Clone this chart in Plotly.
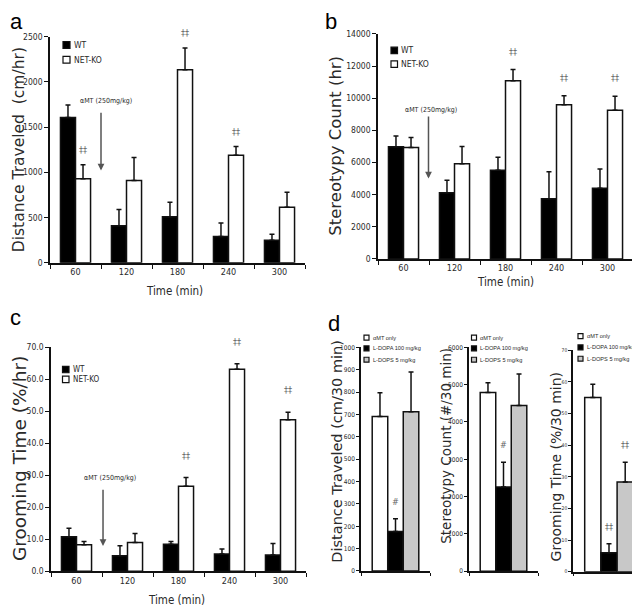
import plotly.graph_objects as go

W, H = 640, 608

# ---------------- data ----------------
times = ["60", "120", "180", "240", "300"]
groups = ["WT", "NET-KO"]

a_wt = [1605, 410, 510, 290, 250]
a_wt_err = [140, 180, 160, 150, 65]
a_ko = [930, 910, 2135, 1190, 615]
a_ko_err = [155, 255, 240, 95, 165]
a_sig = ["‡‡", "", "‡‡", "‡‡", ""]

b_wt = [6980, 4120, 5510, 3740, 4390]
b_wt_err = [670, 780, 820, 1690, 1200]
b_ko = [6940, 5920, 11080, 9590, 9250]
b_ko_err = [610, 1080, 700, 570, 880]
b_sig = ["", "", "‡‡", "‡‡", "‡‡"]

c_wt = [10.8, 4.9, 8.5, 5.4, 5.1]
c_wt_err = [2.7, 3.1, 0.8, 1.6, 3.6]
c_ko = [8.3, 9.0, 26.6, 63.2, 47.4]
c_ko_err = [1.0, 2.8, 2.7, 1.7, 2.3]
c_sig = ["", "", "‡‡", "‡‡", "‡‡"]

treatments = ["αMT only", "L-DOPA 100 mg/kg", "L-DOPS 5 mg/kg"]
d_dist = [691, 176, 712]
d_dist_err = [106, 58, 178]
d_dist_sig = ["", "#", ""]
d_ster = [4790, 2260, 4440]
d_ster_err = [260, 660, 850]
d_ster_sig = ["", "#", ""]
d_groom = [55.1, 6.0, 28.4]
d_groom_err = [4.2, 2.8, 6.2]
d_groom_sig = ["", "‡‡", "‡‡"]

# ---------------- style ----------------
def PX(px):
    return px / W


def PY(py):
    return 1 - py / H


NARROW = "Liberation Sans Narrow, Arial Narrow, DejaVu Sans Condensed, sans-serif"
WIDE = "DejaVu Sans, Verdana, sans-serif"
ARIAL = "Liberation Sans, Arial, sans-serif"
INK = "#111111"
TXT = "#2a2a2a"
SIGC = "#666666"

group_colors = ["#000000", "#ffffff"]
treat_colors = ["#ffffff", "#000000", "#c8c8c8"]

fig = go.Figure()

GW = 0.295
group_offsets = [-GW, 0.0]


def err(arr):
    return dict(type="data", symmetric=False, array=arr, color=INK,
                thickness=1.5, width=2.5)


panels_ac = [
    ("x", "y", [a_wt, a_ko], [a_wt_err, a_ko_err]),
    ("x2", "y2", [b_wt, b_ko], [b_wt_err, b_ko_err]),
    ("x3", "y3", [c_wt, c_ko], [c_wt_err, c_ko_err]),
]
for xa, ya, vals, errs in panels_ac:
    for gi in range(2):
        fig.add_trace(go.Bar(
            x=times, y=vals[gi], name=groups[gi], xaxis=xa, yaxis=ya,
            offset=group_offsets[gi], width=GW,
            marker=dict(color=group_colors[gi], line=dict(color=INK, width=1.5)),
            error_y=err(errs[gi]), showlegend=False, cliponaxis=False,
        ))

DW = 0.225
treat_offsets = [-1.5 * DW, -0.5 * DW, 0.5 * DW]
panels_d = [
    ("x4", "y4", d_dist, d_dist_err),
    ("x5", "y5", d_ster, d_ster_err),
    ("x6", "y6", d_groom, d_groom_err),
]
for xa, ya, vals, errs in panels_d:
    for ti in range(3):
        fig.add_trace(go.Bar(
            x=[0], y=[vals[ti]], name=treatments[ti], xaxis=xa, yaxis=ya,
            offset=treat_offsets[ti], width=DW,
            marker=dict(color=treat_colors[ti], line=dict(color=INK, width=1.5)),
            error_y=err([errs[ti]]), showlegend=False, cliponaxis=False,
        ))

# ---------------- axes ----------------
common = dict(showline=True, linecolor=INK, linewidth=1.5, ticks="outside",
              tickcolor=INK, tickwidth=1.2, ticklen=4, showgrid=False,
              zeroline=False, fixedrange=True)


def xcat(l, r, anchor, size=9):
    return dict(domain=[PX(l), PX(r)], anchor=anchor, type="category",
                range=[-0.5, 4.5], tickson="boundaries",
                tickfont=dict(family=NARROW, size=size, color=TXT), **common)


def ylin(b, t, anchor, rng, dtick, size=8.5, fmt="d"):
    return dict(domain=[PY(b), PY(t)], anchor=anchor, range=rng, dtick=dtick,
                tickformat=fmt,
                tickfont=dict(family=NARROW, size=size, color=TXT), **common)


def xd(l, r, anchor):
    d = dict(domain=[PX(l), PX(r)], anchor=anchor, range=[-0.5, 0.5],
             tickvals=[-0.5, 0.5], showticklabels=False, **common)
    d["ticklen"] = 3
    return d


fig.update_layout(
    xaxis=xcat(42, 297, "y"),
    yaxis=ylin(254, 24, "x", [0, 2500], 500),
    xaxis2=xcat(370, 625, "y2"),
    yaxis2=ylin(250, 21.3, "x2", [0, 14000], 2000),
    xaxis3=xcat(43, 298, "y3"),
    yaxis3=ylin(567.7, 340, "x3", [0, 70], 10, fmt=".1f"),
    xaxis4=xd(353, 422, "y4"),
    yaxis4=ylin(567.3, 340, "x4", [0, 1000], 100, size=6.5),
    xaxis5=xd(461, 530, "y5"),
    yaxis5=ylin(567.5, 340, "x5", [0, 6000], 1000, size=6.5),
    xaxis6=xd(565, 637, "y6"),
    yaxis6=ylin(568, 343, "x6", [0, 70], 10, size=5),
)
for k in ["yaxis4", "yaxis5", "yaxis6"]:
    fig.layout[k].ticklen = 3

ann = []
shapes = []


def text_px(x, y, t, size, family, color=TXT, angle=0, xanchor="center"):
    ann.append(dict(x=PX(x), y=PY(y), xref="paper", yref="paper", text=t,
                    showarrow=False, textangle=angle, xanchor=xanchor,
                    yanchor="middle", font=dict(size=size, family=family, color=color)))


# panel letters
text_px(0, 8.3, "a", 22, ARIAL, "#000", xanchor="left")
text_px(315, 8.3, "b", 22, ARIAL, "#000", xanchor="left")
text_px(0, 309.3, "c", 22, ARIAL, "#000", xanchor="left")
text_px(318, 315.3, "d", 22, ARIAL, "#000", xanchor="left")

# y titles
text_px(10.5, 139, "Distance Traveled  (cm/hr)", 15.5, WIDE, angle=-90)
text_px(328, 135, "Stereotypy Count (hr)", 16.5, WIDE, angle=-90)
text_px(11.5, 453, "Grooming Time (%/hr)", 18.5, WIDE, angle=-90)
text_px(329, 446, "Distance Traveled (cm/30 min)", 14.5, WIDE, angle=-90)
text_px(438, 440, "Stereotypy Count (#/30 min)", 13.5, WIDE, angle=-90)
text_px(548, 461, "Grooming Time (%/30 min)", 14, WIDE, angle=-90)

# x titles
text_px(166, 283, "Time (min)", 11.5, NARROW)
text_px(497, 274, "Time (min)", 11.5, NARROW)
text_px(168, 597, "Time (min)", 11.5, NARROW)


# legends (manual swatches + labels)
def legend_block(x0, ys, size, labels, fills, fsize, family):
    for yc, lab, fc in zip(ys, labels, fills):
        shapes.append(dict(type="rect", xref="paper", yref="paper",
                           x0=PX(x0), x1=PX(x0 + size), y0=PY(yc + size / 2),
                           y1=PY(yc - size / 2), fillcolor=fc,
                           line=dict(color=INK, width=1.2)))
        text_px(x0 + size + 1.5, yc, lab, fsize, family, xanchor="left")


legend_block(55, [32.5, 47.5], 7, groups, group_colors, 8.5, NARROW)
legend_block(383, [38, 52], 6.5, groups, group_colors, 8.5, NARROW)
legend_block(54.5, [362.5, 372.5], 6.5, groups, group_colors, 8, NARROW)
legend_block(356, [330, 341, 352.5], 5, treatments, treat_colors, 5.6, ARIAL)
legend_block(463.5, [330, 341, 352.5], 5, treatments, treat_colors, 5.6, ARIAL)
legend_block(570, [328.5, 340, 351.5], 5, treatments, treat_colors, 5.6, ARIAL)

# αMT injection arrows
arrow_specs = [
    ("x", "y", 0.5, 1020, 1674, 0.6, 1793),
    ("x2", "y2", 0.49, 5000, 8960, 0.53, 9290),
    ("x3", "y3", 0.52, 7.9, 26.0, 0.65, 29.2),
]
for xa, ya, ax_, tip, tail, tx, ty in arrow_specs:
    ann.append(dict(x=ax_, y=tip, ax=ax_, ay=tail, xref=xa, yref=ya,
                    axref=xa, ayref=ya, text="", showarrow=True, arrowhead=2,
                    arrowsize=0.9, arrowwidth=1.5, arrowcolor="#555555"))
    ann.append(dict(x=tx, y=ty, xref=xa, yref=ya, text="αMT (250mg/kg)",
                    showarrow=False, font=dict(size=7, family=NARROW, color=TXT)))

# significance marks
sig_specs = [
    ("x", "y", a_ko, a_ko_err, a_sig, 15),
    ("x2", "y2", b_ko, b_ko_err, b_sig, 18),
    ("x3", "y3", c_ko, c_ko_err, c_sig, 22),
]
for xa, ya, vals, errs, sig, shift in sig_specs:
    for i, s in enumerate(sig):
        if s:
            ann.append(dict(x=i + GW / 2, y=vals[i] + errs[i], xref=xa, yref=ya,
                            text=s, showarrow=False, yshift=shift, yanchor="middle",
                            font=dict(size=9, family=NARROW, color=SIGC)))
dsig_specs = [
    ("x4", "y4", d_dist, d_dist_err, d_dist_sig),
    ("x5", "y5", d_ster, d_ster_err, d_ster_sig),
    ("x6", "y6", d_groom, d_groom_err, d_groom_sig),
]
for xa, ya, vals, errs, sig in dsig_specs:
    for i, s in enumerate(sig):
        if s:
            ann.append(dict(x=treat_offsets[i] + DW / 2, y=vals[i] + errs[i],
                            xref=xa, yref=ya, text=s, showarrow=False, yshift=17,
                            yanchor="middle",
                            font=dict(size=9, family=NARROW, color=SIGC)))

fig.update_layout(
    width=W, height=H, autosize=False,
    margin=dict(l=0, r=0, t=0, b=0),
    paper_bgcolor="white", plot_bgcolor="white",
    barmode="overlay", showlegend=False,
    annotations=ann, shapes=shapes,
    font=dict(family=NARROW, color=TXT),
)

fig.write_html("out.html")
